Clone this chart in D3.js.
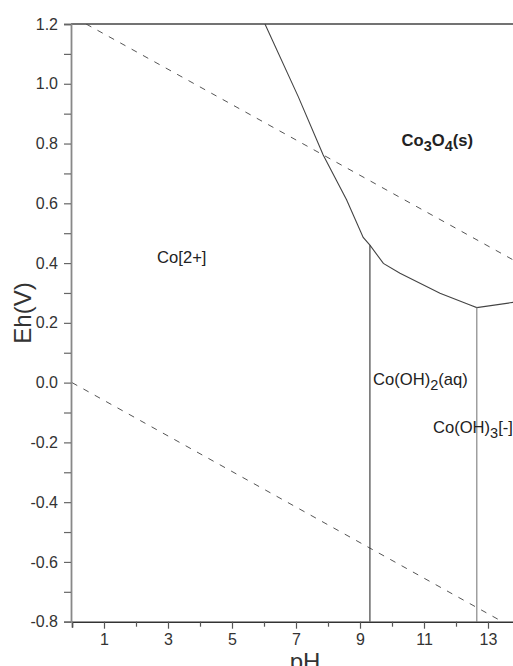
<!DOCTYPE html>
<html>
<head>
<meta charset="utf-8">
<script src="https://cdn.jsdelivr.net/npm/d3@7"></script>
<style>
  html, body { margin: 0; padding: 0; background: #fff; overflow: hidden; }
  svg { display: block; font-family: "Liberation Sans", Arial, sans-serif; }
</style>
</head>
<body>
<svg id="chart" width="513" height="666"></svg>
<script>
// ---- data (pH, Eh) ----
const upperWater = [[0.44, 1.2], [14, 0.398]];
const lowerWater = [[0, 0], [13.45, -0.8]];
const mainBoundary = [
  [6.03, 1.2], [7.07, 0.957], [7.85, 0.762], [8.58, 0.612], [9.10, 0.486],
  [9.31, 0.460], [9.73, 0.399], [10.25, 0.366], [11.5, 0.299], [12.44, 0.260],
  [12.65, 0.251], [13.69, 0.267], [14, 0.272]
];
const vertical1 = [[9.31, 0.460], [9.31, -0.8]];
const vertical2 = [[12.65, 0.251], [12.65, -0.8]];
const xTicks = d3.range(0, 15);
const xLabels = [1, 3, 5, 7, 9, 11, 13];
const yTicks = d3.range(-8, 13).map(k => k / 10);
const yLabelEvery = 2;
const species = [
  { parts: [["Co[2+]", 0]], pH: 2.66, Eh: 0.40, bold: false },
  { parts: [["Co", 0], ["3", 1], ["O", 0], ["4", 1], ["(s)", 0]], pH: 10.3, Eh: 0.792, bold: true },
  { parts: [["Co(OH)", 0], ["2", 1], ["(aq)", 0]], pH: 9.41, Eh: -0.008, bold: false },
  { parts: [["Co(OH)", 0], ["3", 1], ["[-]", 0]], pH: 11.28, Eh: -0.17, bold: false }
];

// ---- scales ----
const svg = d3.select("#chart");
const x = d3.scaleLinear().domain([0, 14]).range([72, 520]);
const y = d3.scaleLinear().domain([-0.8, 1.2]).range([621.7, 24]);

svg.append("defs").append("clipPath").attr("id", "plot")
  .append("rect").attr("x", x(0) - 1).attr("y", y(1.2)).attr("width", x(14) - x(0) + 1).attr("height", y(-0.8) - y(1.2));

const line = d3.line().x(d => x(d[0])).y(d => y(d[1]));
const g = svg.append("g").attr("clip-path", "url(#plot)");

g.append("path").datum(upperWater).attr("d", line)
  .attr("fill", "none").attr("stroke", "#555").attr("stroke-width", 1).attr("stroke-dasharray", "6,7");
g.append("path").datum(lowerWater).attr("d", line)
  .attr("fill", "none").attr("stroke", "#555").attr("stroke-width", 1).attr("stroke-dasharray", "6,7");
g.append("path").datum(mainBoundary).attr("d", line)
  .attr("fill", "none").attr("stroke", "#444").attr("stroke-width", 1.1);
g.append("path").datum(vertical1).attr("d", line)
  .attr("fill", "none").attr("stroke", "#333").attr("stroke-width", 1.1);
g.append("path").datum(vertical2).attr("d", line)
  .attr("fill", "none").attr("stroke", "#888").attr("stroke-width", 1.2);

// top border
svg.append("line").attr("x1", x(0) - 1).attr("x2", 513).attr("y1", y(1.2)).attr("y2", y(1.2))
  .attr("stroke", "#444").attr("stroke-width", 1.5);

// ---- axes ----
const xAxis = d3.axisBottom(x).tickValues(xTicks)
  .tickFormat(d => xLabels.includes(d) ? String(d) : "")
  .tickSize(6).tickPadding(6);
const gx = svg.append("g").attr("transform", `translate(0,${y(-0.8)})`).call(xAxis);
gx.select(".domain").attr("stroke", "#333").attr("stroke-width", 1.5);
gx.selectAll(".tick line").attr("stroke", "#555").attr("stroke-width", 1.2)
  .attr("y2", d => xLabels.includes(d) ? 7 : 5);
gx.selectAll(".tick text").attr("fill", "#333").style("font-size", "16px");

const yAxis = d3.axisLeft(y).tickValues(yTicks)
  .tickFormat((d, i) => (Math.round(d * 10) % yLabelEvery === 0) ? d.toFixed(1) : "")
  .tickSize(7).tickPadding(6);
const gy = svg.append("g").attr("transform", `translate(${x(0) - 1},0)`).call(yAxis);
gy.select(".domain").attr("stroke", "#888").attr("stroke-width", 1.8);
gy.selectAll(".tick line").attr("stroke", "#666").attr("stroke-width", 1.2);
gy.selectAll(".tick text").attr("fill", "#333").style("font-size", "16px");

// axis titles
svg.append("text").attr("x", 305).attr("y", 670).attr("text-anchor", "middle")
  .attr("fill", "#333").style("font-size", "24px").text("pH");
svg.append("text").attr("transform", "translate(31,313) rotate(-90)").attr("text-anchor", "middle")
  .attr("fill", "#333").style("font-size", "24px").text("Eh(V)");

// species labels
species.forEach(s => {
  const t = svg.append("text").attr("x", x(s.pH)).attr("y", y(s.Eh))
    .attr("fill", "#222").style("font-size", "16.6px").style("font-weight", s.bold ? "bold" : "normal");
  let shifted = false;
  s.parts.forEach(([txt, sub]) => {
    const ts = t.append("tspan").text(txt);
    if (sub && !shifted) { ts.attr("dy", 5).style("font-size", "14.5px"); shifted = true; }
    else if (!sub && shifted) { ts.attr("dy", -5); shifted = false; }
    else if (sub) { ts.style("font-size", "14.5px"); }
  });
});
</script>
</body>
</html>
